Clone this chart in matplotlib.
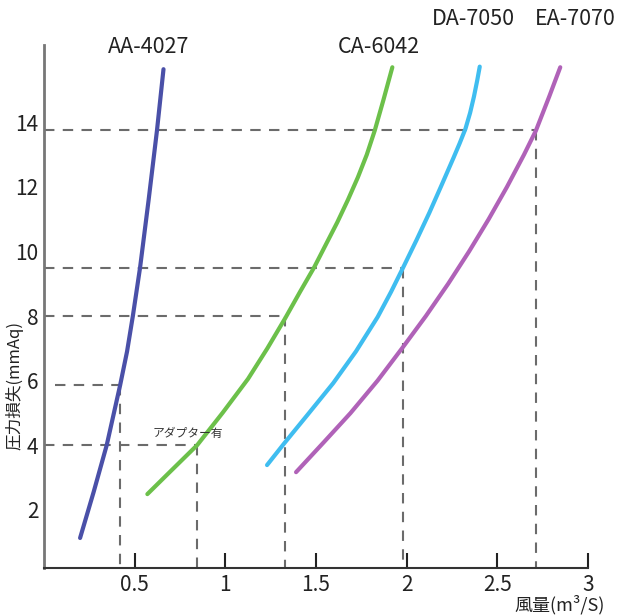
import matplotlib
matplotlib.use("Agg")
import matplotlib.pyplot as plt

plt.rcParams['font.family'] = ['Noto Sans CJK JP', 'DejaVu Sans']

# Curves (flow m3/s, pressure loss mmAq)
aa_x = [0.199, 0.274, 0.346, 0.420, 0.458, 0.490, 0.530, 0.577, 0.623, 0.659]
aa_y = [1.12, 2.55, 4.0, 5.86, 6.9, 8.0, 9.51, 11.6, 13.75, 15.65]
ca_x = [0.57, 0.70, 0.845, 0.985, 1.125, 1.232, 1.331, 1.412, 1.490,
        1.553, 1.617, 1.676, 1.731, 1.780, 1.824, 1.872, 1.921]
ca_y = [2.48, 3.2, 4.0, 5.0, 6.05, 7.0, 7.94, 8.75, 9.51,
        10.2, 10.9, 11.6, 12.3, 13.0, 13.75, 14.7, 15.71]
da_x = [1.23, 1.33, 1.455, 1.595, 1.72, 1.84, 1.914, 1.982, 2.054,
        2.125, 2.192, 2.258, 2.292, 2.324, 2.350, 2.371, 2.389, 2.403]
da_y = [3.38, 4.09, 4.95, 5.92, 6.9, 7.97, 8.75, 9.52, 10.35,
        11.2, 12.05, 12.9, 13.35, 13.8, 14.3, 14.8, 15.3, 15.73]
ea_x = [1.39, 1.545, 1.69, 1.84, 1.98, 2.106, 2.229, 2.344, 2.452,
        2.553, 2.647, 2.713, 2.786, 2.847]
ea_y = [3.16, 4.1, 4.99, 6.0, 7.04, 8.0, 9.0, 10.0, 11.0,
        12.0, 13.0, 13.75, 14.8, 15.71]

series_names = ["AA-4027", "CA-6042", "DA-7050", "EA-7070"]
series_colors = ["#4a50a8", "#6cc04a", "#3fbdf0", "#b062b8"]
label_x = [0.575, 1.845, 2.37, 2.93]
label_y = [16.34, 16.34, 17.2, 17.2]

# Dashed guide lines: horizontal from x0 to x1 at y, then vertical at x1 down to the axis
guide_y = [13.75, 9.5, 8.0, 5.85, 4.0]
guide_x0 = [0.0, 0.0, 0.0, 0.06, 0.0]
guide_x1 = [2.713, 1.982, 1.331, 0.42, 0.845]

x_ticks = [0.5, 1, 1.5, 2, 2.5, 3]
x_tick_labels = ["0.5", "1", "1.5", "2", "2.5", "3"]
y_ticks = [2, 4, 6, 8, 10, 12, 14]
y_tick_labels = ["2", "4", "6", "8", "10", "12", "14"]

fig = plt.figure(figsize=(6.24, 6.16), dpi=100)
ax = fig.add_axes([44/624, 48/616, 544/624, 523/616])
ax.set_xlim(0, 3)
ymin, ymax = 0.19, 16.4
ax.set_ylim(ymin, ymax)

dash = (0, (5, 4))
for gy, gx0, gx1 in zip(guide_y, guide_x0, guide_x1):
    ax.plot([gx0, gx1], [gy, gy], color="#6b6b6b", lw=1.5, ls=dash, zorder=1)
    ax.plot([gx1, gx1], [gy, ymin], color="#6b6b6b", lw=1.5, ls=dash, zorder=1)

for xs, ys, c in zip([aa_x, ca_x, da_x, ea_x], [aa_y, ca_y, da_y, ea_y], series_colors):
    ax.plot(xs, ys, color=c, lw=3.0, solid_capstyle='round', solid_joinstyle='round', zorder=3)

for name, lx, ly in zip(series_names, label_x, label_y):
    ax.text(lx, ly, name, ha='center', va='center', fontsize=15.5, color="#222222", clip_on=False)

ax.text(0.60, 4.35, "アダプター有", ha='left', va='center', fontsize=8.5, color="#333333")

for s in ['top', 'right']:
    ax.spines[s].set_visible(False)
ax.spines['left'].set_color("#777777")
ax.spines['left'].set_linewidth(2)
ax.spines['bottom'].set_color("#333333")
ax.spines['bottom'].set_linewidth(1.5)

ax.set_xticks(x_ticks)
ax.set_xticklabels(x_tick_labels)
ax.set_yticks(y_ticks)
ax.set_yticklabels(y_tick_labels)
ax.tick_params(axis='x', direction='in', length=11, width=1.5, color="#222222",
               labelsize=15, labelcolor="#222222", pad=4)
ax.tick_params(axis='y', length=0, labelsize=15, labelcolor="#222222", pad=4)

fig.text(14/624, 1 - 385/616, "圧力損失(mmAq)", rotation=90, ha='center', va='center',
         fontsize=12, color="#222222")
fig.text(560/624, 1 - 605/616, "風量(m³/S)", ha='center', va='center',
         fontsize=13, color="#222222")

fig.savefig("out.png", dpi=100)
